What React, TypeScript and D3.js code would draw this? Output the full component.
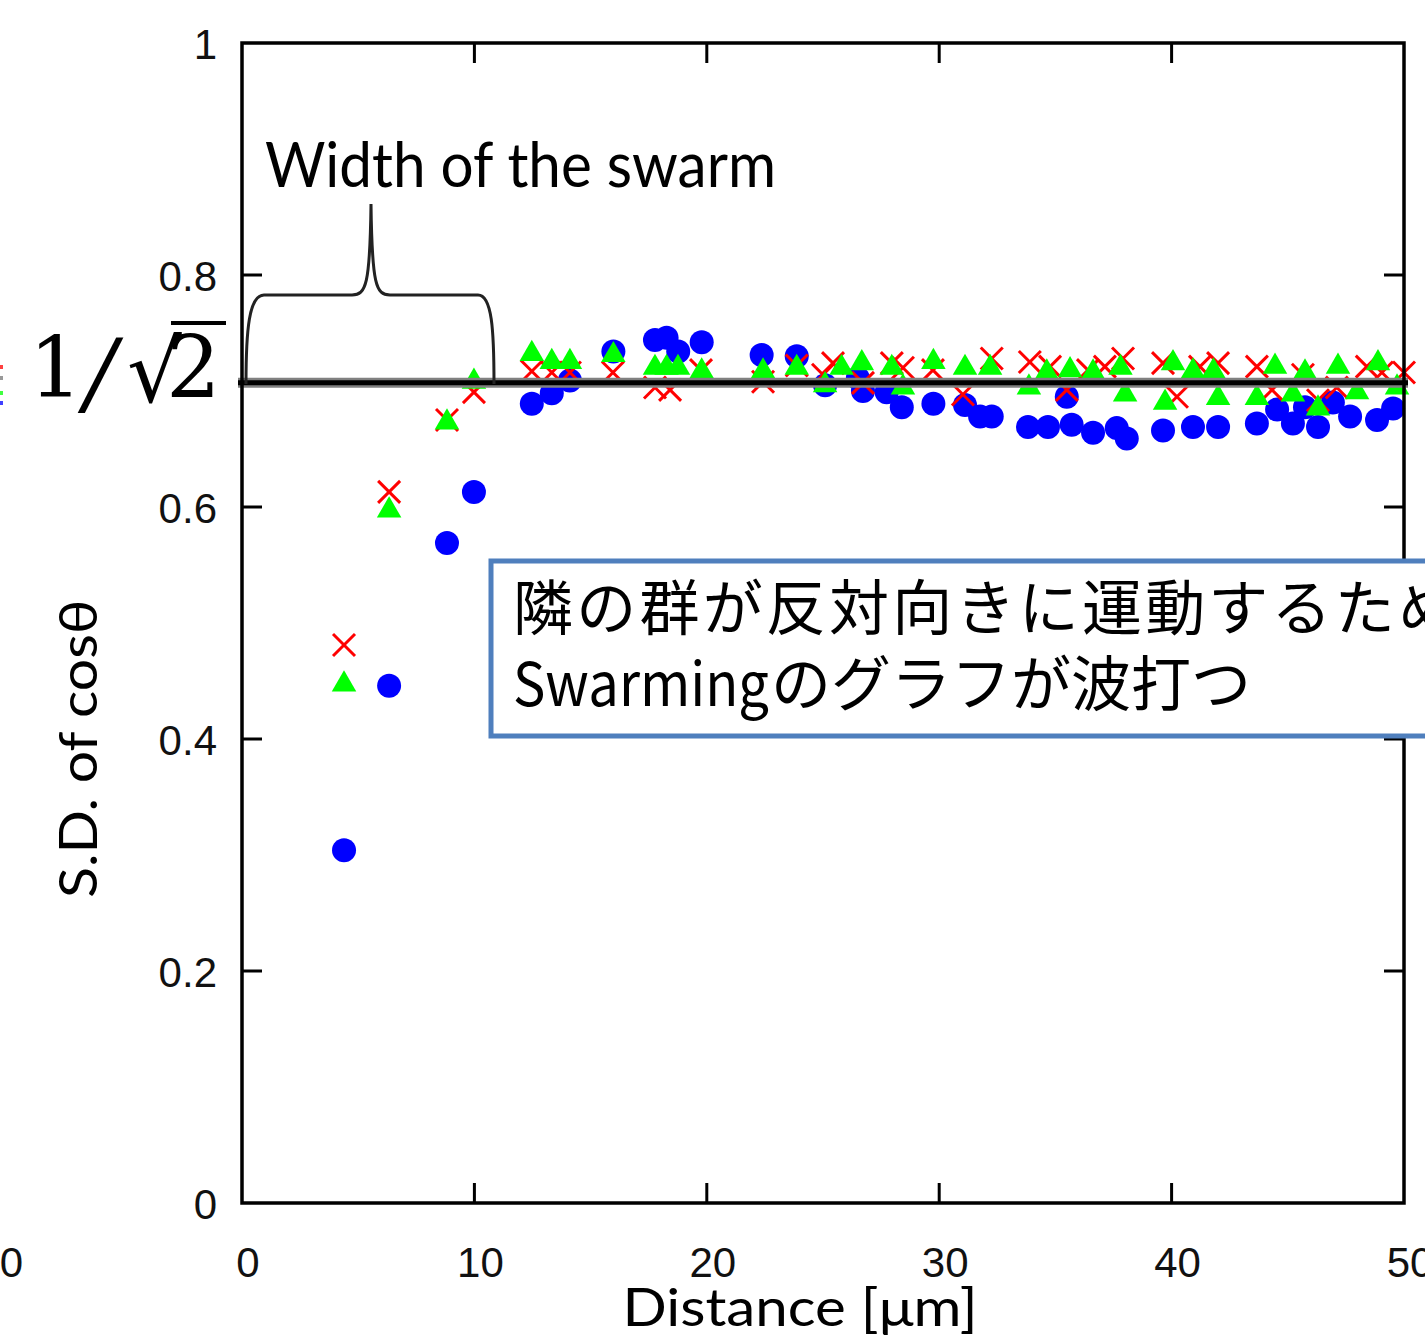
import React from "react";
import * as d3 from "d3";

// ---- data ----
const xTicks = [0, 10, 20, 30, 40, 50];
const xTickLabels = ["0", "10", "20", "30", "40", "50"];
const yTicks = [0, 0.2, 0.4, 0.6, 0.8, 1];
const yTickLabels = ["0", "0.2", "0.4", "0.6", "0.8", "1"];

const blueX = [4.39, 6.33, 8.82, 9.98, 12.47, 13.33, 14.11, 15.98, 17.77, 18.27, 18.77, 19.78, 22.36, 23.87, 25.09, 26.5, 26.72, 27.74, 28.39, 29.75, 31.11, 31.76, 32.26, 33.82, 34.68, 35.49, 35.7, 36.62, 37.64, 38.07, 39.63, 40.92, 42.0, 43.67, 44.54, 45.22, 45.74, 46.3, 46.94, 47.68, 48.84, 49.53];
const blueY = [0.304, 0.446, 0.569, 0.613, 0.689, 0.698, 0.709, 0.734, 0.744, 0.746, 0.734, 0.742, 0.731, 0.73, 0.705, 0.711, 0.7, 0.699, 0.686, 0.689, 0.688, 0.678, 0.678, 0.669, 0.669, 0.695, 0.671, 0.664, 0.668, 0.659, 0.666, 0.669, 0.669, 0.672, 0.684, 0.672, 0.686, 0.669, 0.69, 0.678, 0.675, 0.685];

const redX = [4.39, 6.33, 8.82, 9.98, 12.47, 13.33, 14.11, 15.96, 17.77, 18.42, 19.75, 22.42, 23.87, 25.0, 25.43, 26.72, 27.96, 28.44, 29.73, 31.02, 32.26, 33.9, 34.77, 35.49, 36.4, 37.13, 37.91, 39.63, 40.23, 41.22, 42.0, 43.67, 44.32, 45.65, 46.3, 47.11, 48.4, 49.05, 50.0];
const redY = [0.481, 0.613, 0.675, 0.699, 0.717, 0.716, 0.716, 0.716, 0.703, 0.701, 0.718, 0.708, 0.722, 0.714, 0.724, 0.707, 0.724, 0.72, 0.718, 0.697, 0.728, 0.725, 0.721, 0.701, 0.718, 0.721, 0.728, 0.724, 0.695, 0.721, 0.724, 0.721, 0.701, 0.714, 0.692, 0.703, 0.721, 0.716, 0.716];

const greenX = [4.39, 6.33, 8.82, 9.98, 12.47, 13.33, 14.11, 15.98, 17.77, 18.27, 18.76, 19.78, 22.42, 23.87, 25.09, 25.8, 26.67, 27.96, 28.44, 29.75, 31.11, 32.19, 33.86, 34.63, 35.63, 36.62, 37.8, 38.0, 39.72, 40.06, 40.92, 41.8, 42.0, 43.67, 44.45, 45.22, 45.74, 46.3, 47.16, 47.98, 48.88, 49.7];
const greenY = [0.447, 0.597, 0.673, 0.708, 0.732, 0.725, 0.725, 0.731, 0.72, 0.72, 0.72, 0.717, 0.717, 0.72, 0.705, 0.72, 0.724, 0.72, 0.703, 0.725, 0.72, 0.72, 0.703, 0.716, 0.718, 0.716, 0.72, 0.697, 0.69, 0.724, 0.717, 0.717, 0.694, 0.694, 0.721, 0.697, 0.716, 0.685, 0.721, 0.699, 0.724, 0.703];

const refValue = 1 / Math.SQRT2;

const W = 1425;
const H = 1342;

export default function App() {
  const x = d3.scaleLinear().domain([0, 50]).range([242, 1404]);
  const y = d3.scaleLinear().domain([0, 1]).range([1203, 43]);
  const [x0, x1] = x.range();
  const [yb, yt] = y.range();
  const tickLen = 20;
  const tri = d3.symbol().type(d3.symbolTriangle).size(260)();
  const sans = "Lato, 'Open Sans', sans-serif";
  const tickFont = "'Liberation Sans', Arial, sans-serif";
  const cjk = "'Noto Sans CJK JP', sans-serif";

  return (
    <svg
      width={W}
      height={H}
      viewBox={`0 0 ${W} ${H}`}
      style={{ position: "absolute", left: 0, top: 0, background: "#fff" }}
    >
      <rect x={0} y={0} width={W} height={H} fill="#fff" />

      {/* neighbour-chart fragments at the left edge */}
      <text x={23} y={1277} textAnchor="end" fontFamily={tickFont} fontSize={42} fill="#111">50</text>
      <rect x={0} y={365} width={3} height={4} fill="#ff4040" />
      <rect x={0} y={376} width={3} height={4} fill="#999" />
      <rect x={0} y={391} width={3} height={4} fill="#40ff40" />
      <rect x={0} y={401} width={3} height={4} fill="#4040ff" />

      {/* series: blue circles */}
      <g fill="#0000ff">
        {blueX.map((d, i) => (
          <circle key={i} cx={x(d)} cy={y(blueY[i])} r={12} />
        ))}
      </g>
      {/* series: red crosses */}
      <g stroke="#ff0000" strokeWidth={3}>
        {redX.map((d, i) => (
          <g key={i} transform={`translate(${x(d)},${y(redY[i])})`}>
            <line x1={-11} y1={-11} x2={11} y2={11} />
            <line x1={-11} y1={11} x2={11} y2={-11} />
          </g>
        ))}
      </g>
      {/* series: green triangles */}
      <g fill="#00ff00">
        {greenX.map((d, i) => (
          <path key={i} d={tri as string} transform={`translate(${x(d)},${y(greenY[i])})`} />
        ))}
      </g>

      {/* 1/sqrt(2) reference line */}
      <line x1={x0 - 4} x2={x1 + 4} y1={y(refValue)} y2={y(refValue)} stroke="#808080" strokeWidth={10} />
      <line x1={x0 - 4} x2={x1 + 4} y1={y(refValue)} y2={y(refValue)} stroke="#000" strokeWidth={5} />

      {/* frame */}
      <rect x={x0} y={yt} width={x1 - x0} height={yb - yt} fill="none" stroke="#000" strokeWidth={3.5} />
      {xTicks.slice(1, -1).map((t) => (
        <g key={"xt" + t} stroke="#000" strokeWidth={3}>
          <line x1={x(t)} x2={x(t)} y1={yb} y2={yb - tickLen} />
          <line x1={x(t)} x2={x(t)} y1={yt} y2={yt + tickLen} />
        </g>
      ))}
      {yTicks.slice(1, -1).map((t) => (
        <g key={"yt" + t} stroke="#000" strokeWidth={3}>
          <line x1={x0} x2={x0 + tickLen} y1={y(t)} y2={y(t)} />
          <line x1={x1} x2={x1 - tickLen} y1={y(t)} y2={y(t)} />
        </g>
      ))}

      {/* tick labels */}
      {xTicks.map((t, i) => (
        <text key={"xl" + t} x={x(t) + 6} y={1277} textAnchor="middle" fontFamily={tickFont} fontSize={42} fill="#111">
          {xTickLabels[i]}
        </text>
      ))}
      {yTicks.map((t, i) => (
        <text key={"yl" + t} x={217} y={y(t) + 16} textAnchor="end" fontFamily={tickFont} fontSize={42} fill="#111">
          {yTickLabels[i]}
        </text>
      ))}

      {/* axis titles */}
      <text x={800} y={1326} textAnchor="middle" fontFamily={sans} fontSize={52} fill="#000" textLength={355} lengthAdjust="spacingAndGlyphs">
        Distance [μm]
      </text>
      <text transform="translate(97,749) rotate(-90)" textAnchor="middle" fontFamily={sans} fontSize={52} fill="#000" textLength={298} lengthAdjust="spacingAndGlyphs">
        S.D. of cosθ
      </text>

      {/* 1/sqrt2 label */}
      <g fontFamily="'DejaVu Serif', serif" fill="#000">
        <text x={29} y={397} fontSize={84}>1</text>
        <text x={85} y={404} fontSize={92} fontStyle="italic">/</text>
        <text x={127} y={402} fontSize={86}>√</text>
        <text x={166} y={397} fontSize={86}>2</text>
      </g>
      <line x1={171} x2={226} y1={323} y2={323} stroke="#000" strokeWidth={4} />

      {/* brace annotation */}
      <path
        d="M246,384 C246,330 249,295 264,295 L352,295 C366,295 370,285 371,204 C372,285 376,295 390,295 L478,295 C492,295 494,330 494,384"
        fill="none"
        stroke="#222"
        strokeWidth={3}
      />
      <text x={265} y={187} fontFamily={sans} fontSize={62} fill="#000" textLength={511} lengthAdjust="spacingAndGlyphs">
        Width of the swarm
      </text>

      {/* text box */}
      <rect x={491} y={561} width={1100} height={175} fill="#fff" stroke="#4f7fbd" strokeWidth={5} />
      <g fontFamily={cjk} fontSize={60} fill="#000">
        <text x={513} y={630} textLength={945} lengthAdjust="spacing">隣の群が反対向きに運動するため</text>
        <text x={513} y={706} textLength={256} lengthAdjust="spacingAndGlyphs">Swarming</text>
        <text x={771} y={706}>のグラフが波打つ</text>
      </g>
    </svg>
  );
}
